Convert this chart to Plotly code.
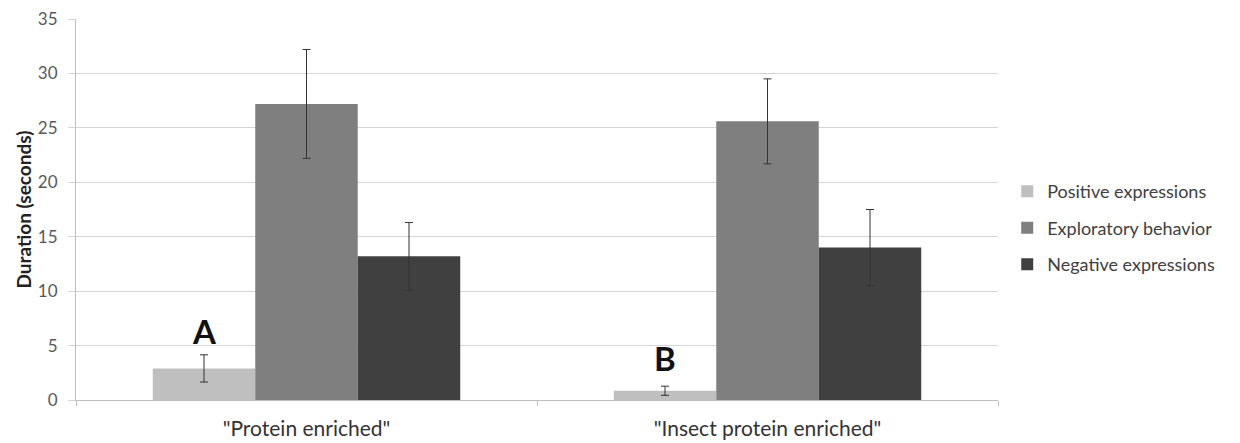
import plotly.graph_objects as go

categories = ['"Protein enriched"', '"Insect protein enriched"']
series_names = ["Positive expressions", "Exploratory behavior", "Negative expressions"]
positive = [2.9, 0.85]
exploratory = [27.2, 25.6]
negative = [13.2, 14.0]
positive_err = [1.25, 0.42]
exploratory_err = [5.0, 3.9]
negative_err = [3.1, 3.5]
colors = ["#bfbfbf", "#7f7f7f", "#404040"]
letters = ["A", "B"]
letter_y = [4.3, 1.85]
y_ticks = [0, 5, 10, 15, 20, 25, 30, 35]
y_title = "Duration (seconds)"

FONT = "Lato"

fig = go.Figure()
for name, vals, errs, col in zip(series_names,
                                 [positive, exploratory, negative],
                                 [positive_err, exploratory_err, negative_err],
                                 colors):
    fig.add_trace(go.Bar(
        name=name, x=categories, y=vals,
        marker=dict(color=col, line=dict(width=0)),
        error_y=dict(type="data", array=errs, visible=True,
                     color="#333333", thickness=1, width=4),
        legendgroup=name,
    ))

n = len(series_names)
bargap = 0.333
bw = (1 - bargap) / n
for i, (t, yv) in enumerate(zip(letters, letter_y)):
    fig.add_annotation(x=i - bw, y=yv, text="<b>%s</b>" % t, showarrow=False,
                       xref="x", yref="y", yanchor="bottom",
                       font=dict(family=FONT, size=33, color="#111111"))

# y-axis title as rotated annotation for precise placement
fig.add_annotation(x=0, y=0.5, xref="paper", yref="paper", xshift=-53,
                   text="<b>%s</b>" % y_title, textangle=-90, showarrow=False,
                   xanchor="center", yanchor="middle",
                   font=dict(family=FONT, size=19, color="#222222"))

fig.update_layout(
    width=1240, height=443,
    margin=dict(l=76, r=242, t=19, b=43),
    paper_bgcolor="white", plot_bgcolor="white",
    barmode="group", bargap=bargap, bargroupgap=0,
    font=dict(family=FONT, color="#404040"),
    showlegend=True,
    legend=dict(x=1.01, y=0.451, xanchor="left", yanchor="middle",
                font=dict(family=FONT, size=18, color="#404040"),
                tracegroupgap=10, traceorder="grouped",
                itemwidth=30, bgcolor="rgba(0,0,0,0)"),
)
fig.update_xaxes(
    type="category", range=[-0.5, len(categories) - 0.5],
    tickson="boundaries",
    showline=True, linecolor="#bfbfbf", linewidth=1,
    showgrid=False, ticks="outside", ticklen=5, tickcolor="#bfbfbf",
    tickfont=dict(family=FONT, size=21, color="#333333"),
    ticklabelstandoff=10,
    zeroline=False, automargin=False,
)
fig.update_yaxes(
    range=[0, 35], tickvals=y_ticks,
    showline=True, linecolor="#bfbfbf", linewidth=1,
    showgrid=True, gridcolor="#d4d4d4", gridwidth=1,
    ticks="outside", ticklen=7, tickcolor="#d4d4d4",
    tickfont=dict(family=FONT, size=17, color="#595959"),
    ticklabelstandoff=7,
    zeroline=False, automargin=False,
)
fig.write_html("out.html")
